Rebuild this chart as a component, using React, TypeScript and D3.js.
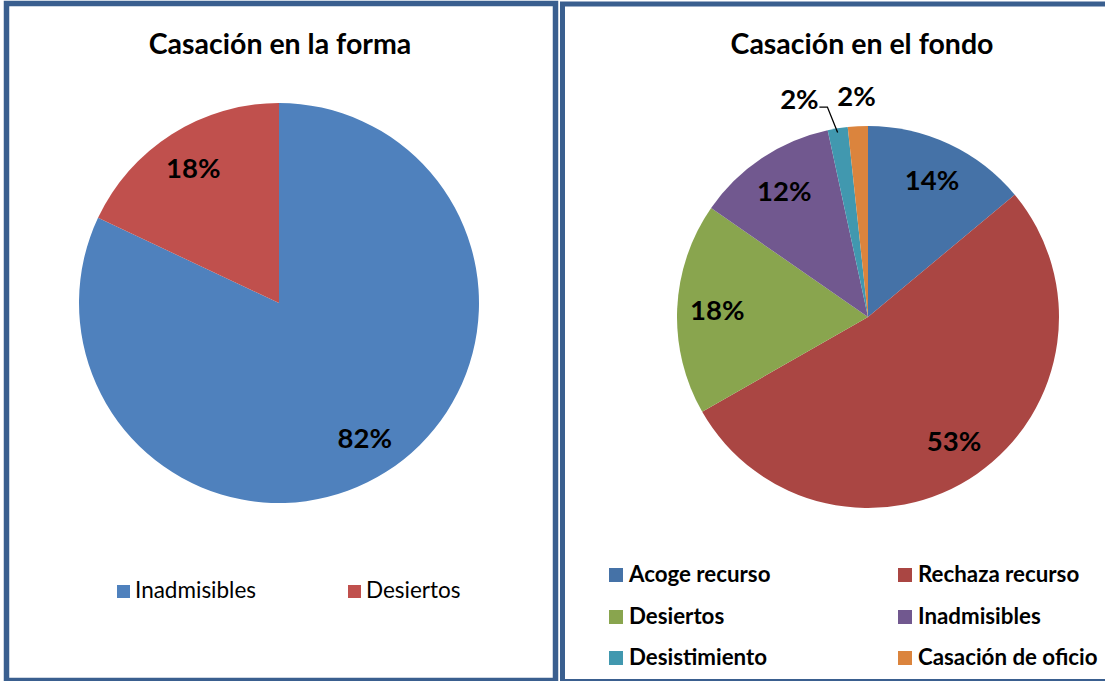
import React from "react";
import * as d3 from "d3";

const formaCategories = ["Inadmisibles", "Desiertos"];
const formaValues = [82, 18];
const formaColors = ["#4F81BD", "#C0504D"];

const fondoCategories = ["Acoge recurso", "Rechaza recurso", "Desiertos", "Inadmisibles", "Desistimiento", "Casación de oficio"];
const fondoValues = [14, 53, 18, 12, 1.7, 1.7];
const fondoColors = ["#4572A7", "#AA4643", "#89A54E", "#71588F", "#4198AF", "#DB843D"];

const W = 1105;
const H = 681;
const FONT = "Lato, 'Open Sans', sans-serif";
const BORDER = "#3A5F8F";

type Slice = d3.PieArcDatum<number>;

function pieData(values: number[]): Slice[] {
  return d3.pie<number>().sort(null).value((d) => d)(values);
}

function pct(v: number) {
  return `${Math.round(v)}%`;
}

export default function App() {
  // Left pie
  const lcx = 279, lcy = 303, lR = 200;
  const lSlices = pieData(formaValues);
  const lArc = d3.arc<Slice>().innerRadius(0).outerRadius(lR);
  const lLabel = d3.arc<Slice>().innerRadius(lR * 0.8).outerRadius(lR * 0.8);

  // Right pie
  const rcx = 868, rcy = 317, rR = 191;
  const rSlices = pieData(fondoValues);
  const rArc = d3.arc<Slice>().innerRadius(0).outerRadius(rR);
  const rLabel = d3.arc<Slice>().innerRadius(rR * 0.79).outerRadius(rR * 0.79);
  const rOuter = d3.arc<Slice>().innerRadius(rR * 1.14).outerRadius(rR * 1.14);
  const rEdge = d3.arc<Slice>().innerRadius(rR * 1.0).outerRadius(rR * 1.0);

  const legendColX = [609, 898];
  const legendRowY = [582, 624, 665];

  return (
    <svg width={W} height={H} style={{ position: "absolute", left: 0, top: 0, background: "#fff" }}>
      <rect x={0} y={0} width={W} height={H} fill="#fff" />
      {/* Left panel */}
      <rect x={6.5} y={3.5} width={549} height={677} fill="none" stroke={BORDER} strokeWidth={5.5} />
      <text x={280} y={54} textAnchor="middle" fontFamily={FONT} fontWeight="bold" fontSize={28.5} fill="#000">
        Casación en la forma
      </text>
      <g transform={`translate(${lcx},${lcy})`}>
        {lSlices.map((s, i) => (
          <path key={i} d={lArc(s) || ""} fill={formaColors[i]} />
        ))}
        {lSlices.map((s, i) => {
          const [x, y] = lLabel.centroid(s);
          return (
            <text key={i} x={x} y={y} dy="0.35em" textAnchor="middle" fontFamily={FONT} fontWeight="bold" fontSize={27.5} fill="#000">
              {pct(s.data)}
            </text>
          );
        })}
      </g>
      {formaCategories.map((c, i) => {
        const x = [117, 348][i];
        return (
          <g key={c}>
            <rect x={x} y={585} width={13} height={13} fill={formaColors[i]} />
            <text x={x + 18} y={598} fontFamily={FONT} fontSize={22.5} fill="#000">
              {c}
            </text>
          </g>
        );
      })}

      {/* Right panel */}
      <rect x={562.5} y={4} width={600} height={677.5} fill="none" stroke={BORDER} strokeWidth={5} />
      <text x={862} y={54} textAnchor="middle" fontFamily={FONT} fontWeight="bold" fontSize={28.5} fill="#000">
        Casación en el fondo
      </text>
      <g transform={`translate(${rcx},${rcy})`}>
        {rSlices.map((s, i) => (
          <path key={i} d={rArc(s) || ""} fill={fondoColors[i]} />
        ))}
        {rSlices.map((s, i) => {
          if (s.data >= 5) {
            const [x, y] = rLabel.centroid(s);
            return (
              <text key={i} x={x} y={y} dy="0.35em" textAnchor="middle" fontFamily={FONT} fontWeight="bold" fontSize={27.5} fill="#000">
                {pct(s.data)}
              </text>
            );
          }
          const [ox, oy] = rOuter.centroid(s);
          const [ex, ey] = rEdge.centroid(s);
          const shift = i === 4 ? -34 : 0;
          const lx = ox + shift;
          return (
            <g key={i}>
              {i === 4 && (
                <polyline
                  points={`${lx + 20},${oy + 5} ${lx + 28},${oy + 5} ${ex},${ey + 4}`}
                  fill="none"
                  stroke="#000"
                  strokeWidth={1.3}
                />
              )}
              <text x={lx} y={oy} dy="0.25em" textAnchor="middle" fontFamily={FONT} fontWeight="bold" fontSize={27.5} fill="#000">
                {pct(s.data)}
              </text>
            </g>
          );
        })}
      </g>
      {fondoCategories.map((c, i) => {
        const x = legendColX[i % 2];
        const y = legendRowY[Math.floor(i / 2)];
        return (
          <g key={c}>
            <rect x={x} y={y - 14} width={14} height={14} fill={fondoColors[i]} />
            <text x={x + 20} y={y} fontFamily={FONT} fontWeight="bold" fontSize={22.3} fill="#000">
              {c}
            </text>
          </g>
        );
      })}
    </svg>
  );
}
